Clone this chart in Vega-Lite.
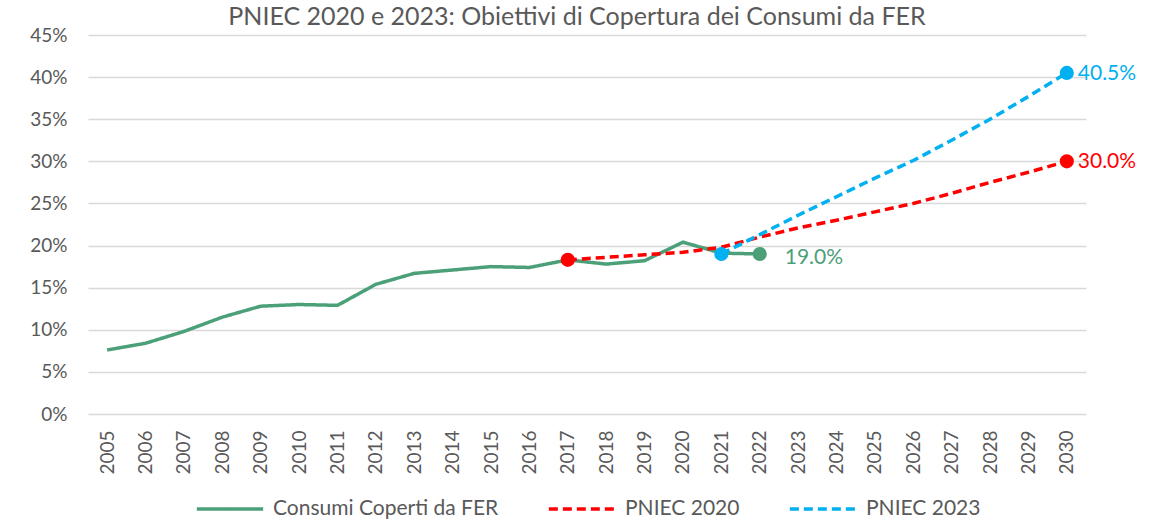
{
  "$schema": "https://vega.github.io/schema/vega-lite/v6.json",
  "width": 998,
  "height": 379,
  "autosize": {"type": "none"},
  "padding": {"left": 88, "top": 35, "right": 70, "bottom": 105},
  "background": "white",
  "config": {
    "font": "Lato",
    "view": {"stroke": null},
    "axis": {"labelColor": "#595959", "labelFont": "Lato", "labelFontSize": 19}
  },
  "title": {
    "text": "PNIEC 2020 e 2023: Obiettivi di Copertura dei Consumi da FER",
    "font": "Lato",
    "fontSize": 25,
    "fontWeight": "normal",
    "color": "#595959",
    "anchor": "middle",
    "offset": -4,
    "dx": -10
  },
  "datasets": {
    "series": [
      {"year": "2005", "series": "Consumi Coperti da FER", "value": 0.076},
      {"year": "2006", "series": "Consumi Coperti da FER", "value": 0.084},
      {"year": "2007", "series": "Consumi Coperti da FER", "value": 0.098},
      {"year": "2008", "series": "Consumi Coperti da FER", "value": 0.115},
      {"year": "2009", "series": "Consumi Coperti da FER", "value": 0.128},
      {"year": "2010", "series": "Consumi Coperti da FER", "value": 0.130},
      {"year": "2011", "series": "Consumi Coperti da FER", "value": 0.129},
      {"year": "2012", "series": "Consumi Coperti da FER", "value": 0.154},
      {"year": "2013", "series": "Consumi Coperti da FER", "value": 0.167},
      {"year": "2014", "series": "Consumi Coperti da FER", "value": 0.171},
      {"year": "2015", "series": "Consumi Coperti da FER", "value": 0.175},
      {"year": "2016", "series": "Consumi Coperti da FER", "value": 0.174},
      {"year": "2017", "series": "Consumi Coperti da FER", "value": 0.183},
      {"year": "2018", "series": "Consumi Coperti da FER", "value": 0.178},
      {"year": "2019", "series": "Consumi Coperti da FER", "value": 0.182},
      {"year": "2020", "series": "Consumi Coperti da FER", "value": 0.204},
      {"year": "2021", "series": "Consumi Coperti da FER", "value": 0.191},
      {"year": "2022", "series": "Consumi Coperti da FER", "value": 0.190},
      {"year": "2017", "series": "PNIEC 2020", "value": 0.183},
      {"year": "2018", "series": "PNIEC 2020", "value": 0.186},
      {"year": "2019", "series": "PNIEC 2020", "value": 0.189},
      {"year": "2020", "series": "PNIEC 2020", "value": 0.192},
      {"year": "2021", "series": "PNIEC 2020", "value": 0.198},
      {"year": "2022", "series": "PNIEC 2020", "value": 0.210},
      {"year": "2023", "series": "PNIEC 2020", "value": 0.221},
      {"year": "2024", "series": "PNIEC 2020", "value": 0.230},
      {"year": "2025", "series": "PNIEC 2020", "value": 0.240},
      {"year": "2026", "series": "PNIEC 2020", "value": 0.250},
      {"year": "2027", "series": "PNIEC 2020", "value": 0.262},
      {"year": "2028", "series": "PNIEC 2020", "value": 0.275},
      {"year": "2029", "series": "PNIEC 2020", "value": 0.287},
      {"year": "2030", "series": "PNIEC 2020", "value": 0.300},
      {"year": "2021", "series": "PNIEC 2023", "value": 0.190},
      {"year": "2022", "series": "PNIEC 2023", "value": 0.213},
      {"year": "2023", "series": "PNIEC 2023", "value": 0.236},
      {"year": "2024", "series": "PNIEC 2023", "value": 0.258},
      {"year": "2025", "series": "PNIEC 2023", "value": 0.280},
      {"year": "2026", "series": "PNIEC 2023", "value": 0.301},
      {"year": "2027", "series": "PNIEC 2023", "value": 0.325},
      {"year": "2028", "series": "PNIEC 2023", "value": 0.350},
      {"year": "2029", "series": "PNIEC 2023", "value": 0.377},
      {"year": "2030", "series": "PNIEC 2023", "value": 0.405}
    ],
    "markers": [
      {"year": "2017", "series": "PNIEC 2020", "value": 0.183, "label": ""},
      {"year": "2021", "series": "PNIEC 2023", "value": 0.190, "label": ""},
      {"year": "2022", "series": "Consumi Coperti da FER", "value": 0.190, "label": "19.0%"},
      {"year": "2030", "series": "PNIEC 2020", "value": 0.300, "label": "30.0%"},
      {"year": "2030", "series": "PNIEC 2023", "value": 0.405, "label": "40.5%"}
    ]
  },
  "encoding": {
    "x": {
      "field": "year",
      "type": "ordinal",
      "scale": {"type": "point", "padding": 0.5},
      "axis": {
        "title": null,
        "labelAngle": -90,
        "ticks": false,
        "domain": false,
        "grid": false,
        "labelPadding": 16
      }
    },
    "y": {
      "field": "value",
      "type": "quantitative",
      "scale": {"domain": [0, 0.45]},
      "axis": {
        "title": null,
        "format": ".0%",
        "values": [0, 0.05, 0.1, 0.15, 0.2, 0.25, 0.3, 0.35, 0.4, 0.45],
        "ticks": false,
        "domain": false,
        "gridColor": "#d9d9d9",
        "gridWidth": 1.5,
        "labelPadding": 21
      }
    },
    "color": {
      "field": "series",
      "type": "nominal",
      "scale": {
        "domain": ["Consumi Coperti da FER", "PNIEC 2020", "PNIEC 2023"],
        "range": ["#4CA079", "#FF0000", "#00B0F0"]
      },
      "legend": {
        "title": null,
        "orient": "none",
        "legendX": 107,
        "legendY": 439,
        "direction": "horizontal",
        "symbolType": "stroke",
        "symbolSize": 4400,
        "symbolStrokeWidth": 3.5,
        "labelFont": "Lato",
        "labelFontSize": 21,
        "labelColor": "#595959",
        "labelOffset": 8,
        "labelLimit": 400,
        "columnPadding": 42
      }
    }
  },
  "layer": [
    {
      "data": {"name": "series"},
      "mark": {"type": "line", "strokeWidth": 3.5},
      "encoding": {
        "strokeDash": {
          "field": "series",
          "type": "nominal",
          "scale": {
            "domain": ["Consumi Coperti da FER", "PNIEC 2020", "PNIEC 2023"],
            "range": [[1, 0], [9, 5], [9, 5]]
          },
          "legend": {
            "title": null,
            "orient": "none",
            "legendX": 107,
            "legendY": 439,
            "direction": "horizontal",
            "symbolType": "stroke",
            "symbolSize": 4400,
            "symbolStrokeWidth": 3.5,
            "labelFont": "Lato",
            "labelFontSize": 21,
            "labelColor": "#595959",
            "labelOffset": 8,
            "labelLimit": 400,
            "columnPadding": 42
          }
        }
      }
    },
    {
      "data": {"name": "markers"},
      "mark": {"type": "circle", "size": 200, "opacity": 1},
      "encoding": {}
    },
    {
      "data": {"name": "markers"},
      "transform": [{"filter": "datum.label != '' && datum.series != 'Consumi Coperti da FER'"}],
      "mark": {"type": "text", "align": "left", "baseline": "middle", "dx": 11, "dy": 1, "font": "Lato", "fontSize": 21},
      "encoding": {"text": {"field": "label"}}
    },
    {
      "data": {"name": "markers"},
      "transform": [{"filter": "datum.series == 'Consumi Coperti da FER'"}],
      "mark": {"type": "text", "align": "left", "baseline": "middle", "dx": 25, "dy": 4, "font": "Lato", "fontSize": 21},
      "encoding": {"text": {"field": "label"}}
    }
  ]
}
